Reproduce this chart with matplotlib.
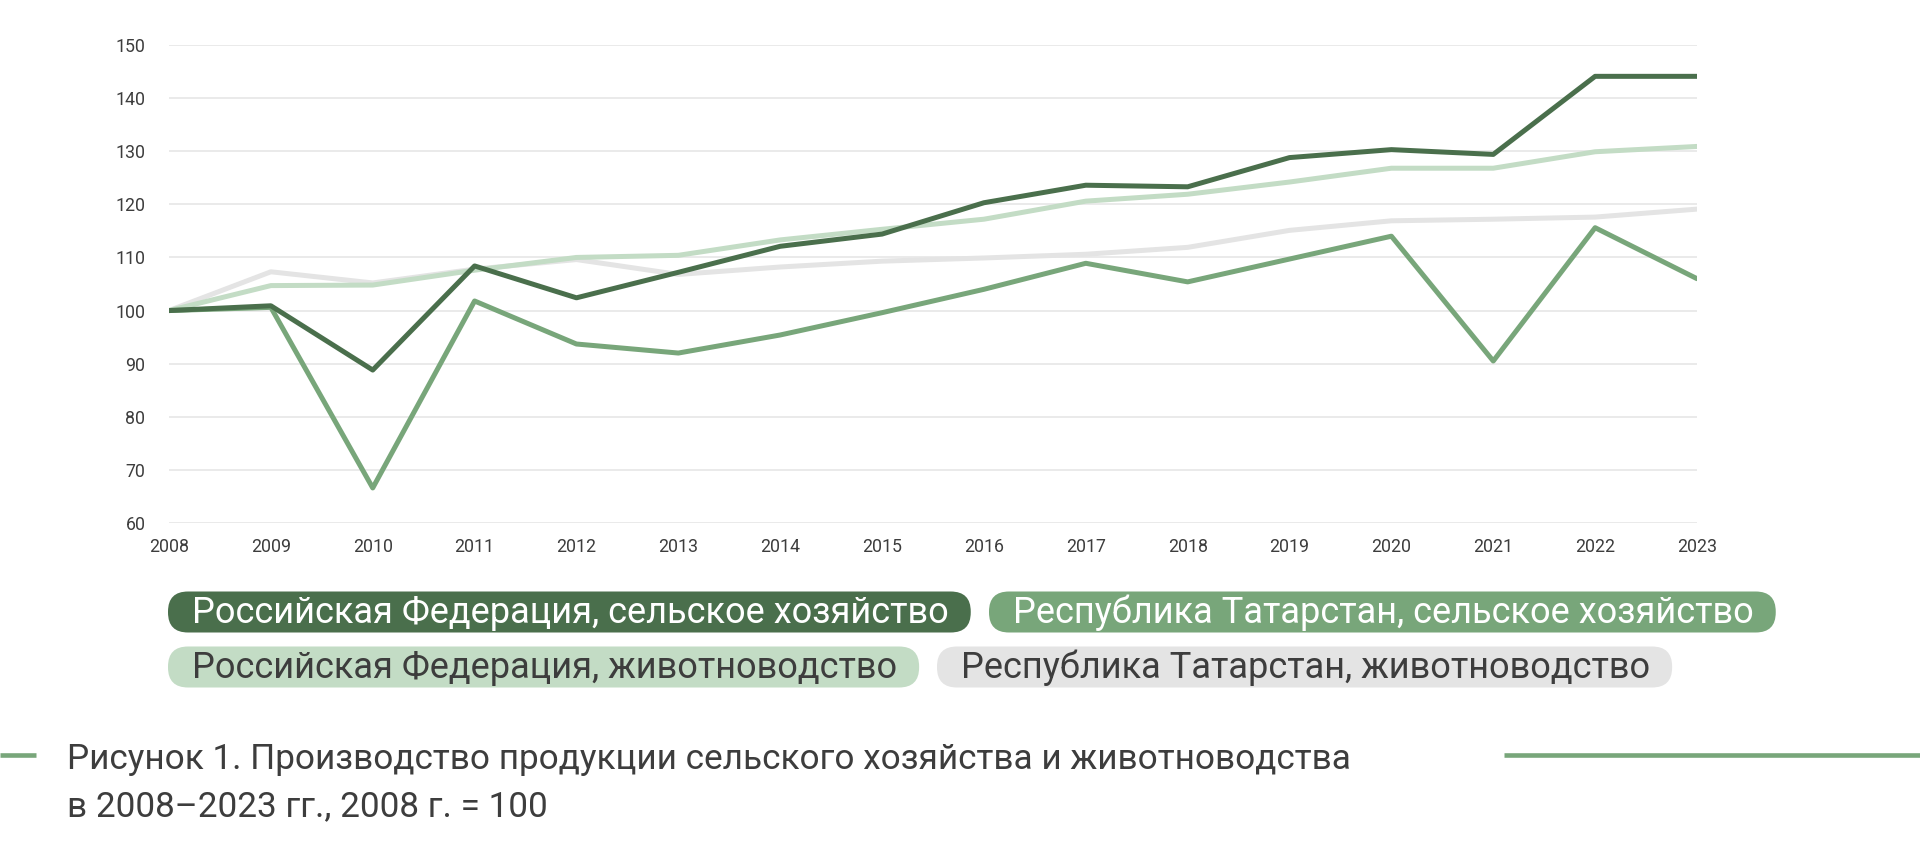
import matplotlib
matplotlib.use('Agg')
import matplotlib.pyplot as plt
from matplotlib.patches import FancyBboxPatch

plt.rcParams['font.family'] = ['Roboto', 'DejaVu Sans']

# data (2008 = 100)
years = list(range(2008, 2024))
rf_agri = [100, 100.9, 88.8, 108.4, 102.4, 107.2, 112.1, 114.4, 120.3, 123.6, 123.3, 128.8, 130.3, 129.4, 144.1, 144.1]
rt_agri = [100, 100.6, 66.6, 101.8, 93.7, 92.0, 95.4, 99.6, 104.0, 108.9, 105.4, 109.7, 114.0, 90.5, 115.6, 106.0]
rf_live = [100, 104.7, 104.8, 107.6, 110.0, 110.4, 113.3, 115.3, 117.2, 120.6, 121.9, 124.2, 126.8, 126.8, 129.9, 130.9]
rt_live = [100, 107.3, 105.2, 107.8, 109.6, 106.8, 108.2, 109.3, 109.9, 110.6, 111.9, 115.1, 116.9, 117.2, 117.6, 119.1]

labels = ['Российская Федерация, сельское хозяйство',
          'Республика Татарстан, сельское хозяйство',
          'Российская Федерация, животноводство',
          'Республика Татарстан, животноводство']
colors = ['#4a6f4c', '#78a67a', '#c3dcc5', '#e4e4e4']
text_colors = ['white', 'white', '#3d3d3d', '#3d3d3d']

caption = ['Рисунок 1. Производство продукции сельского хозяйства и животноводства',
           'в 2008–2023 гг., 2008 г. = 100']

W, H = 1920, 859
fig = plt.figure(figsize=(W / 100, H / 100), dpi=100)

ax = fig.add_axes([169 / W, 1 - 523 / H, (1697 - 169) / W, (523 - 45) / H])
ax.plot(years, rt_live, color=colors[3], lw=3.6, solid_capstyle='round', zorder=3)
ax.plot(years, rf_live, color=colors[2], lw=3.6, solid_capstyle='round', zorder=4)
ax.plot(years, rt_agri, color=colors[1], lw=3.6, solid_capstyle='round', zorder=5)
ax.plot(years, rf_agri, color=colors[0], lw=3.6, solid_capstyle='round', zorder=6)

ax.set_xlim(2008, 2023)
ax.set_ylim(60, 150)
ax.set_xticks(years)
ax.set_yticks(range(60, 151, 10))
ax.grid(axis='y', color='#e6e6e6', lw=1.2)
ax.set_axisbelow(True)
for s in ax.spines.values():
    s.set_visible(False)
ax.tick_params(axis='both', length=0, labelsize=12.8, labelcolor='#3d3d3d')
ax.tick_params(axis='y', pad=17)
ax.tick_params(axis='x', pad=11)

# overlay in pixel coordinates for legend pills and caption
ov = fig.add_axes([0, 0, 1, 1], zorder=-1)
ov.set_xlim(0, W)
ov.set_ylim(H, 0)
ov.axis('off')
ov.patch.set_alpha(0)

r = fig.canvas.get_renderer()

# calibrate legend font so first label is ~756 px wide
fs = 20
t = ov.text(0, 0, labels[0], fontsize=fs)
w0 = t.get_window_extent(renderer=r).width
t.remove()
fs = fs * 756 / w0

rows = [(168, 612), (989, 612), (168, 667), (937, 667)]
box_h = 41
for i, lab in enumerate(labels):
    x0, yc = rows[i]
    t = ov.text(x0 + 24, yc + 1, lab, fontsize=fs, color=text_colors[i],
                va='center', ha='left', zorder=3)
    tw = t.get_window_extent(renderer=r).width
    box = FancyBboxPatch((x0, yc - box_h / 2), tw + 46, box_h,
                         boxstyle='round,pad=0,rounding_size=20',
                         fc=colors[i], ec='none', zorder=2)
    ov.add_patch(box)

# caption
cfs = 27
t = ov.text(0, 0, caption[0], fontsize=cfs)
cw = t.get_window_extent(renderer=r).width
t.remove()
cfs = cfs * 1282 / cw
ov.text(67, 769, caption[0], fontsize=cfs, color='#3d3d3d', va='baseline', ha='left')
ov.text(67, 816, caption[1], fontsize=cfs, color='#3d3d3d', va='baseline', ha='left')
ov.plot([0, 36], [755, 755], color='#78a67a', lw=3.3, solid_capstyle='butt')
ov.plot([1504, W], [755, 755], color='#78a67a', lw=3.3, solid_capstyle='butt')

fig.savefig('out.png', dpi=100, facecolor='white')
